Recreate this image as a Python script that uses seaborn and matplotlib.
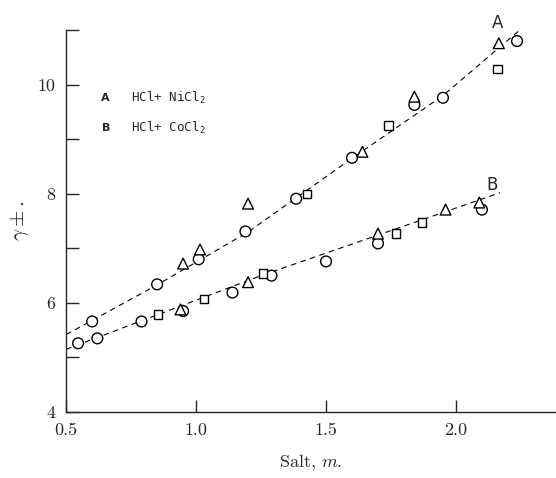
import matplotlib
matplotlib.use('Agg')
import matplotlib.pyplot as plt
import seaborn as sns
import pandas as pd

# curve A: HCl + NiCl2
a_circle_m = [0.60, 0.85, 1.01, 1.19, 1.385, 1.60, 1.84, 1.95, 2.235]
a_circle_g = [5.66, 6.34, 6.80, 7.31, 7.91, 8.66, 9.63, 9.76, 10.80]
a_tri_m = [0.95, 1.015, 1.20, 1.64, 1.84, 2.165]
a_tri_g = [6.72, 6.98, 7.82, 8.77, 9.78, 10.76]
a_sq_m = [1.427, 1.74, 2.16]
a_sq_g = [8.00, 9.25, 10.29]

# curve B: HCl + CoCl2
b_circle_m = [0.546, 0.62, 0.79, 0.95, 1.14, 1.29, 1.50, 1.70, 2.10]
b_circle_g = [5.26, 5.35, 5.66, 5.85, 6.19, 6.50, 6.76, 7.09, 7.71]
b_tri_m = [0.94, 1.20, 1.70, 1.96, 2.09]
b_tri_g = [5.88, 6.38, 7.27, 7.71, 7.84]
b_sq_m = [0.854, 1.03, 1.258, 1.77, 1.87]
b_sq_g = [5.79, 6.07, 6.54, 7.27, 7.47]

# drawn dashed curves
fit_a_m = [0.5, 0.85, 1.2, 1.6, 1.95, 2.27]
fit_a_g = [5.42, 6.33, 7.30, 8.65, 9.80, 11.10]
fit_b_m = [0.5, 1.25, 2.17]
fit_b_g = [5.15, 6.50, 8.02]

x_ticks = [0.5, 1.0, 1.5, 2.0]
y_ticks = [4, 5, 6, 7, 8, 9, 10, 11]
y_labels = ['4', '', '6', '', '8', '', '10', '']

rows = []
for ms, gs, mk in [(a_circle_m, a_circle_g, 'o'), (a_tri_m, a_tri_g, '^'), (a_sq_m, a_sq_g, 's'),
                   (b_circle_m, b_circle_g, 'o'), (b_tri_m, b_tri_g, '^'), (b_sq_m, b_sq_g, 's')]:
    for m, g in zip(ms, gs):
        rows.append({'m': m, 'gamma': g, 'marker': mk})
df = pd.DataFrame(rows)

sns.set_style('ticks')
plt.rcParams['font.family'] = ['serif']
plt.rcParams['font.serif'] = ['cmr10', 'DejaVu Serif']
plt.rcParams['mathtext.fontset'] = 'cm'
plt.rcParams['axes.formatter.use_mathtext'] = True

fig = plt.figure(figsize=(5.56, 4.78), dpi=100)
ax = fig.add_axes([0.119, 0.138, 0.881, 0.799])

sns.lineplot(x=fit_a_m, y=fit_a_g, ax=ax, color='black', lw=0.8, sort=False)
sns.lineplot(x=fit_b_m, y=fit_b_g, ax=ax, color='black', lw=0.8, sort=False)
for ln in ax.lines:
    ln.set_dashes((5, 4))

sns.scatterplot(data=df, x='m', y='gamma', style='marker', size='marker',
                markers={'o': 'o', '^': '^', 's': 's'},
                sizes={'o': 60, '^': 60, 's': 38},
                facecolor='white', edgecolor='black', linewidth=1.0,
                legend=False, ax=ax, zorder=3)

ax.set_xlim(0.5, 2.385)
ax.set_ylim(4, 11)
ax.set_xticks(x_ticks)
ax.set_xticklabels(['0.5', '1.0', '1.5', '2.0'])
ax.set_yticks(y_ticks)
ax.set_yticklabels(y_labels)
ax.tick_params(direction='in', length=9, width=1, labelsize=13, pad=8)
sns.despine(ax=ax)
for sp in ax.spines.values():
    sp.set_linewidth(1.0)

ax.set_xlabel(r'Salt, $m$.', fontsize=13, labelpad=10)
ax.set_ylabel(r'$\gamma\pm$.', fontsize=15, labelpad=4)

ax.text(2.16, 11.13, 'A', fontsize=12, family='DejaVu Sans', ha='center', va='center', clip_on=False)
ax.text(2.14, 8.17, 'B', fontsize=12, family='DejaVu Sans', ha='center', va='center')

ax.text(0.65, 9.76, 'A', fontsize=8, family='DejaVu Sans', fontweight='bold', ha='center', va='center')
ax.text(0.75, 9.76, r'HCl+ NiCl$_\mathregular{2}$', fontsize=9, family='DejaVu Sans Mono', ha='left', va='center')
ax.text(0.654, 9.21, 'B', fontsize=8, family='DejaVu Sans', fontweight='bold', ha='center', va='center')
ax.text(0.75, 9.21, r'HCl+ CoCl$_\mathregular{2}$', fontsize=9, family='DejaVu Sans Mono', ha='left', va='center')

fig.savefig('out.png', dpi=100)
